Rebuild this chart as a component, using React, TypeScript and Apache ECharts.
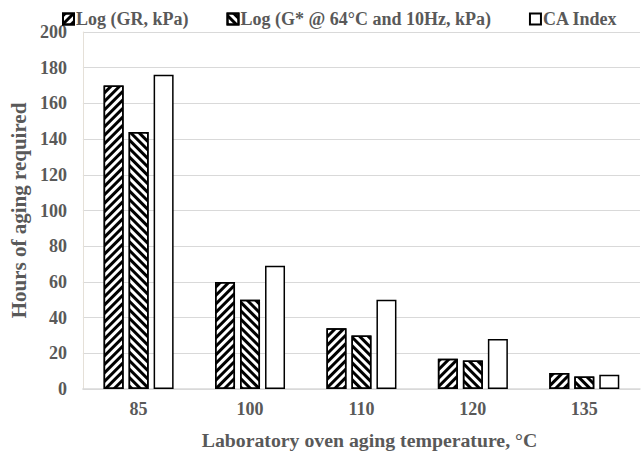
import React, { useEffect, useRef } from "react";
import * as echarts from "echarts";

const categories = ["85", "100", "110", "120", "135"];
const seriesNames = ["Log (GR, kPa)", "Log (G* @ 64°C and 10Hz, kPa)", "CA Index"];
const grValues = [170, 60, 34, 17, 9];
const gStarValues = [144, 50, 30, 16, 7];
const caValues = [176, 69, 50, 28, 8];

const FONT = "'Liberation Serif', 'Times New Roman', serif";
const GRAY = "#595959";

export default function App() {
  const ref = useRef<HTMLDivElement>(null);
  useEffect(() => {
    if (!ref.current) return;
    const chart = echarts.init(ref.current, undefined, { renderer: "svg" });
    const stripe = (rot: number) => ({
      symbol: "rect",
      symbolSize: 1,
      color: "#000",
      backgroundColor: "#fff",
      dashArrayX: [1, 0],
      dashArrayY: [2.2, 2.8],
      rotation: rot,
    });
    const base = {
      type: "bar" as const,
      barWidth: 20,
      barGap: "25%",
    };
    chart.setOption({
      animation: false,
      backgroundColor: "#fff",
      textStyle: { fontFamily: FONT },
      legend: {
        top: 5,
        left: 57,
        itemWidth: 11,
        itemHeight: 11,
        itemGap: 38,
        icon: "rect",
        textStyle: { fontFamily: FONT, fontWeight: "bold", fontSize: 18, color: GRAY, padding: [0, 0, 0, -3] },
      },
      grid: { left: 80, right: 4, top: 32, bottom: 67 },
      xAxis: {
        type: "category",
        data: categories,
        axisLine: { lineStyle: { color: "#d9d9d9", width: 1.5 } },
        axisTick: { show: false },
        axisLabel: { fontFamily: FONT, fontWeight: "bold", fontSize: 18, color: GRAY, margin: 11 },
        name: "Laboratory oven aging temperature, °C",
        nameLocation: "middle",
        nameGap: 41,
        nameTextStyle: { fontFamily: FONT, fontWeight: "bold", fontSize: 19.8, color: GRAY, padding: [0, 0, 0, 16] },
      },
      yAxis: {
        type: "value",
        min: 0,
        max: 200,
        interval: 20,
        axisLine: { show: true, lineStyle: { color: "#e5e0d8", width: 1 } },
        splitLine: { lineStyle: { color: "#d9d9d9", width: 1 } },
        axisLabel: { fontFamily: FONT, fontWeight: "bold", fontSize: 18, color: GRAY, margin: 16 },
        name: "Hours of aging required",
        nameLocation: "middle",
        nameGap: 53,
        nameTextStyle: { fontFamily: FONT, fontWeight: "bold", fontSize: 21, color: GRAY },
      },
      series: [
        {
          ...base,
          name: seriesNames[0],
          data: grValues,
          itemStyle: { color: "#fff", borderColor: "#000", borderWidth: 1.5, decal: stripe(-Math.PI / 4) },
        },
        {
          ...base,
          name: seriesNames[1],
          data: gStarValues,
          itemStyle: { color: "#fff", borderColor: "#000", borderWidth: 1.5, decal: stripe(Math.PI / 4) },
        },
        {
          ...base,
          name: seriesNames[2],
          data: caValues,
          itemStyle: { color: "#fff", borderColor: "#000", borderWidth: 1.5 },
        },
      ],
    });
    return () => chart.dispose();
  }, []);
  return <div ref={ref} style={{ width: 644, height: 456, position: "absolute", left: 0, top: 0 }} />;
}
